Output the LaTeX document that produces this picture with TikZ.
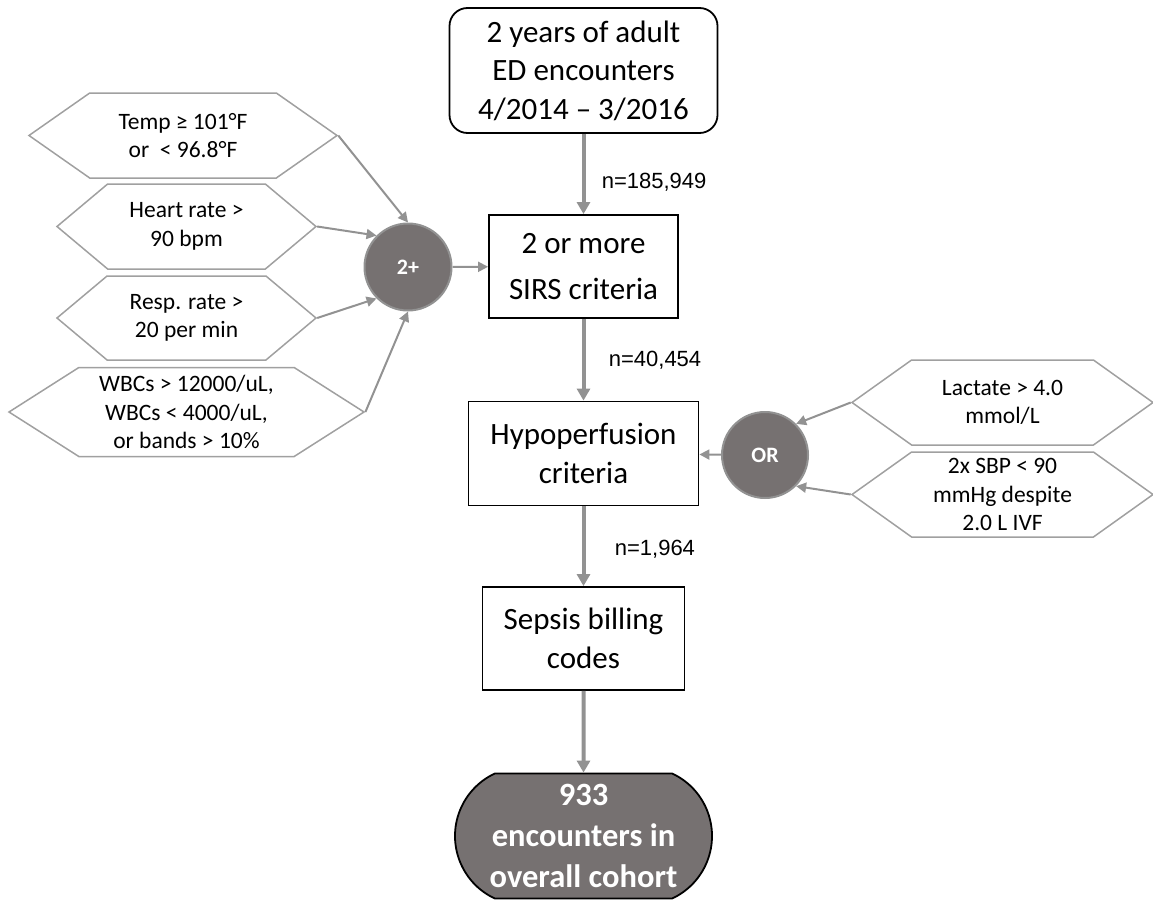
\documentclass[tikz,border=0pt]{standalone}
\usepackage{fontspec}
\setmainfont{Carlito}
\newfontfamily\labelfont{Liberation Sans}
\usetikzlibrary{positioning,arrows.meta,shapes.symbols,shapes.misc}
\definecolor{arrgray}{HTML}{929292}
\definecolor{hexgray}{HTML}{A0A0A0}
\definecolor{gatefill}{HTML}{767171}

\begin{document}
\begin{tikzpicture}[
    x=1pt, y=-1pt,
    box/.style={draw, line width=1.8pt, align=center, inner sep=0pt,
                font=\fontsize{31}{38.5}\selectfont},
    crit/.style={signal, signal to=west and east, draw=hexgray, line width=1.5pt,
                 align=center, inner sep=0pt,
                 font=\fontsize{23.5}{28.5}\selectfont},
    gate/.style={circle, fill=gatefill, draw=arrgray, line width=2pt,
                 minimum size=87pt, inner sep=0pt, text=white,
                 font=\bfseries\fontsize{22}{26}\selectfont},
    garr/.style={-{Triangle[length=12pt,width=13pt]}, line width=4pt, draw=arrgray},
    sarr/.style={-{Triangle[length=10pt,width=10pt]}, line width=2pt, draw=arrgray},
    nlab/.style={right, font=\labelfont\fontsize{22}{26}\selectfont}
  ]
    \clip (0,0) rectangle (1153,899);
    % main column
    \node[box, rounded corners=18pt, minimum width=268pt, minimum height=125pt]
      (enc) at (583.5,70.5) {2 years of adult\\ED encounters\\4/2014 -- 3/2016};
    \node[box, minimum width=189pt, minimum height=103pt,
          font=\fontsize{31}{46}\selectfont] (sirs) at (583.5,266.5)
      {2 or more\\SIRS criteria};
    \node[box, minimum width=230pt, minimum height=104pt] (hypo) at (583.5,453.5)
      {Hypoperfusion\\criteria};
    \node[box, minimum width=202pt, minimum height=103pt] (bill) at (583.5,638.5)
      {Sepsis billing\\codes};
    \node[rounded rectangle, rounded rectangle arc length=130, draw, line width=1.8pt,
          fill=gatefill, text=white, align=center, inner sep=0pt,
          minimum width=257pt, minimum height=125pt,
          font=\bfseries\fontsize{32.5}{41}\selectfont] (cohort) at (583.5,836)
      {933\\encounters in\\overall cohort};
    % SIRS criteria
    \node[crit, minimum width=308pt, minimum height=85pt, signal pointer angle=70]
      (temp) at (183,135.5) {Temp ≥ 101°F\\or \ < 96.8°F};
    \node[crit, minimum width=259pt, minimum height=85pt, signal pointer angle=80]
      (heart) at (186.5,226.5) {Heart rate >\\90 bpm};
    \node[crit, minimum width=259pt, minimum height=84pt, signal pointer angle=80]
      (resp) at (186.5,318) {Resp. rate >\\20 per min};
    \node[crit, minimum width=355pt, minimum height=89pt, signal pointer angle=65]
      (wbc) at (186.5,412) {WBCs > 12000/uL,\\WBCs < 4000/uL,\\or bands > 10\%};
    \node[gate] (two) at (408,267) {2+};
    % hypoperfusion criteria
    \node[crit, minimum width=301pt, minimum height=85pt, signal pointer angle=71]
      (lact) at (1002.5,402.5) {Lactate > 4.0\\mmol/L};
    \node[crit, minimum width=301pt, minimum height=85pt, signal pointer angle=71]
      (sbp) at (1002.5,494.5) {2x SBP < 90\\mmHg despite\\2.0 L IVF};
    \node[gate, minimum size=86pt] (either) at (765,455) {OR};
    % connectors
    \draw[garr] (enc) -- node[nlab, pos=0.6, xshift=13pt] {n=185,949} (sirs);
    \draw[garr] (sirs) -- node[nlab, pos=0.5, xshift=20pt] {n=40,454} (hypo);
    \draw[garr] (hypo) -- node[nlab, pos=0.54, xshift=26pt] {n=1,964} (bill);
    \draw[garr] (bill) -- (cohort);
    \draw[sarr] (temp.east)  -- (two.north);
    \draw[sarr] (heart.east) -- (two.north west);
    \draw[sarr] (resp.east)  -- (two.south west);
    \draw[sarr] (wbc.east)   -- (two.south);
    \draw[sarr] (two) -- (sirs);
    \draw[sarr] (lact.west) -- (either.north east);
    \draw[sarr] (sbp.west)  -- (either.south east);
    \draw[sarr] (either) -- (hypo);
\end{tikzpicture}
\end{document}
